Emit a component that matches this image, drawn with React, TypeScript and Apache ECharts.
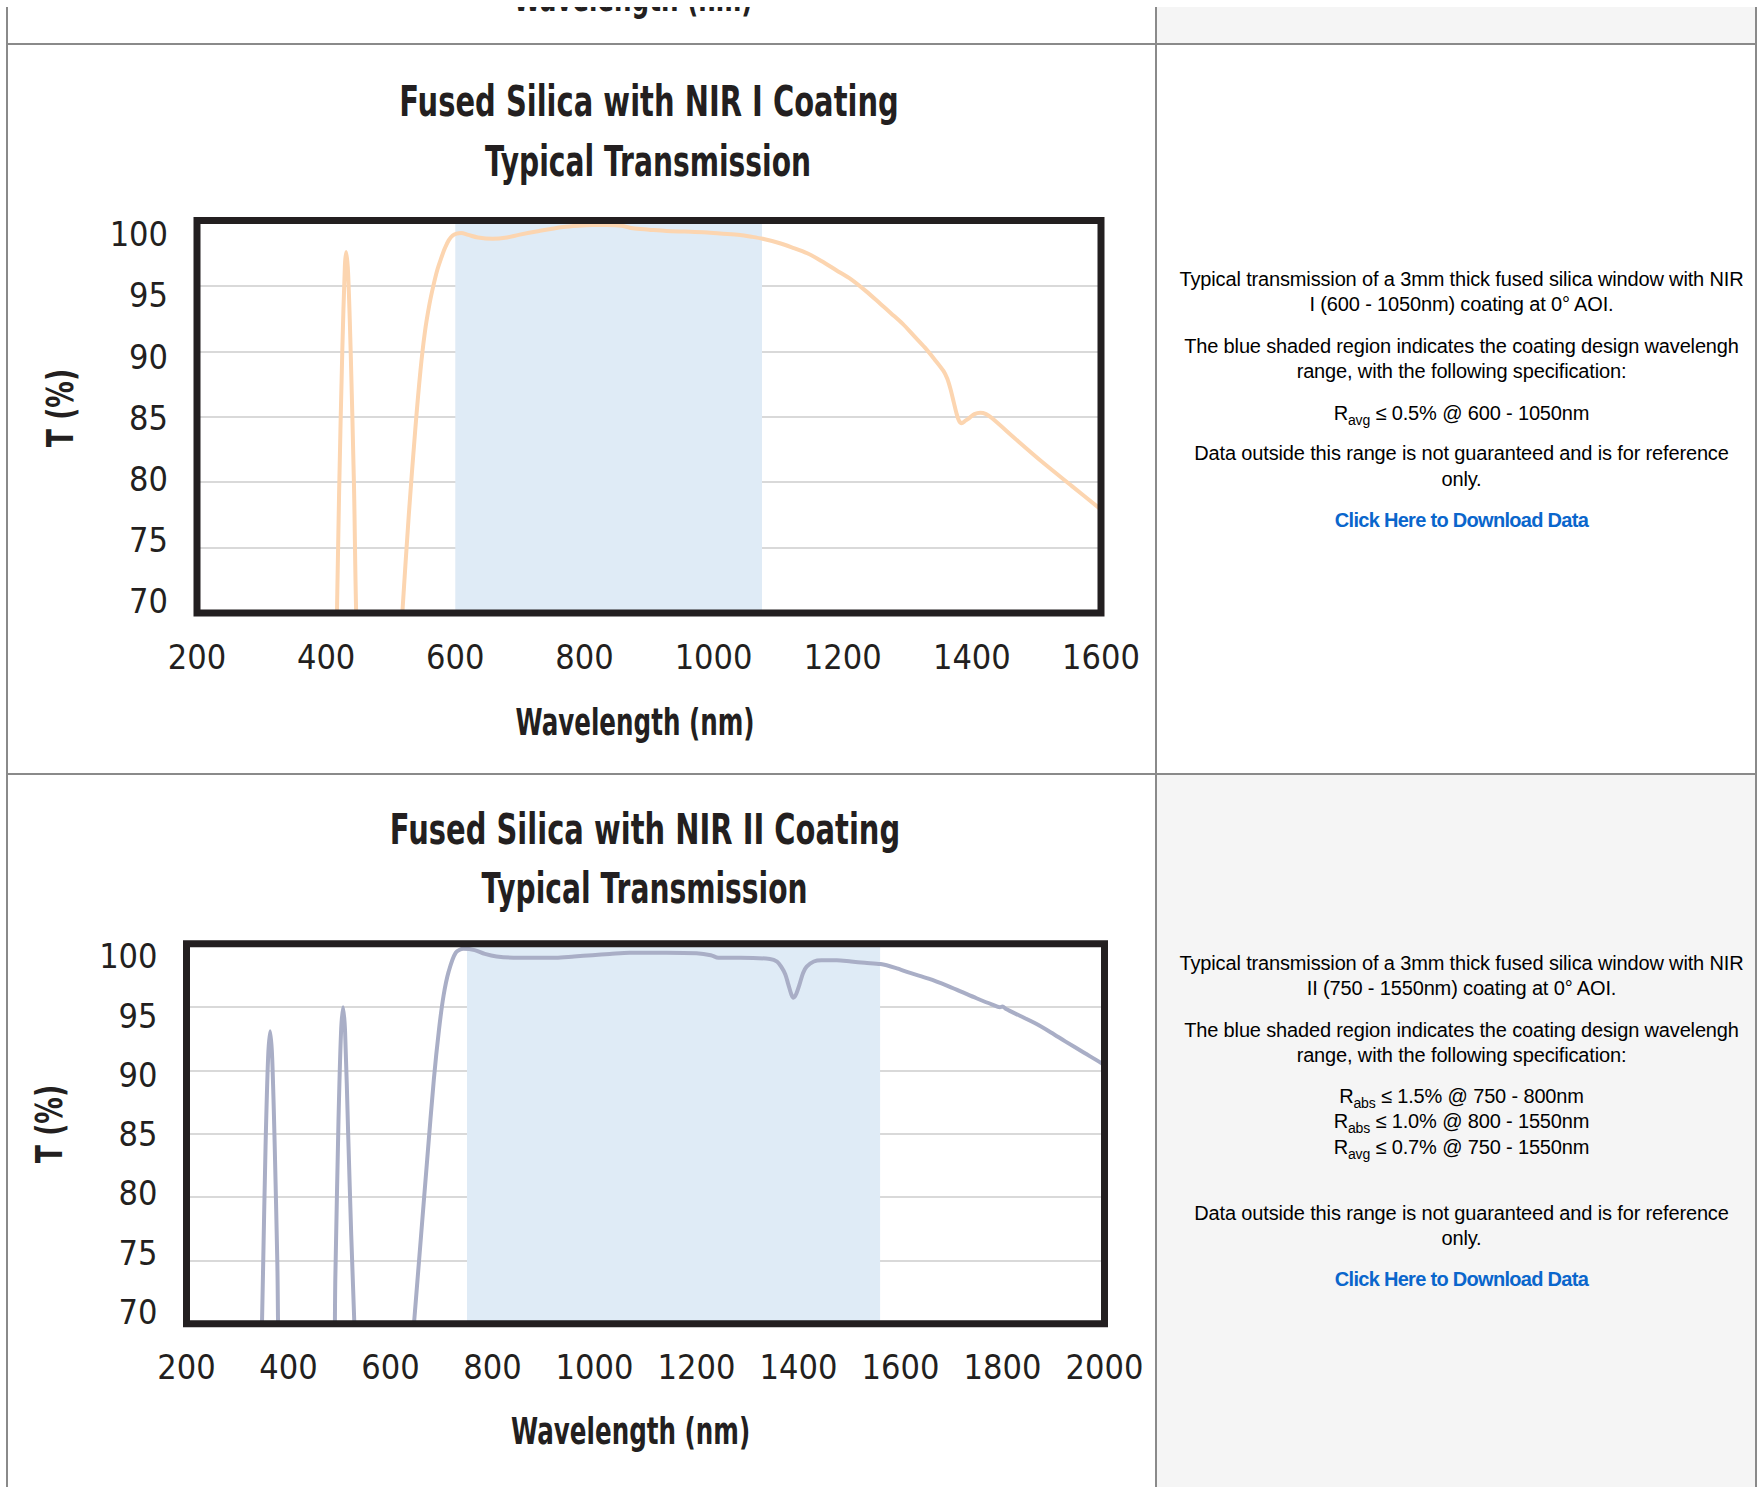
import React, { useEffect, useRef } from "react";
import * as echarts from "echarts";

// ---------- DATA ----------
// NIR I coating: wavelength (nm) and transmission (%)
const nir1Wavelength = [
  414, 420, 425, 429, 431, 434, 438, 443, 449, 480, 512, 518, 528, 538, 546, 553, 560, 566, 572,
  578, 584, 590, 596, 602, 609, 620, 635, 658, 680, 698, 730, 767, 790, 812, 835, 858, 875, 900,
  927, 955, 984, 1010, 1041, 1060, 1076, 1100, 1121, 1145, 1167, 1190, 1213, 1236, 1259, 1275,
  1293, 1310, 1327, 1342, 1356, 1362, 1367, 1372, 1376, 1380, 1384, 1390, 1396, 1404, 1413, 1422,
  1431, 1470, 1510, 1555, 1600,
];
const nir1Transmission = [
  62, 79, 90, 96.5, 97.6, 96, 90, 80, 66, 40, 65, 70, 77.5, 84, 88.5, 91.5, 93.6, 95, 96.2, 97.1,
  97.9, 98.5, 98.85, 99.0, 99.05, 98.9, 98.7, 98.6, 98.7, 98.9, 99.2, 99.5, 99.6, 99.65, 99.65,
  99.6, 99.4, 99.3, 99.2, 99.15, 99.1, 99.0, 98.9, 98.75, 98.6, 98.3, 97.95, 97.5, 96.9, 96.2,
  95.5, 94.6, 93.6, 92.9, 92.1, 91.2, 90.3, 89.4, 88.5, 87.9, 87.1, 86.1, 85.3, 84.7, 84.5, 84.7,
  84.9, 85.2, 85.3, 85.2, 84.9, 83.2, 81.5, 79.7, 77.9,
];
const nir1Shade = [600, 1075];
const nir1XRange = [200, 1600];

// NIR II coating: wavelength (nm) and transmission (%)
const nir2Wavelength = [
  344, 350, 355, 360, 364, 368, 373, 378, 384, 430, 486, 492, 498, 503, 507, 511, 517, 523, 530,
  535, 590, 640, 646, 660, 672, 685, 695, 704, 714, 728, 743, 765, 785, 808, 852, 924, 960, 996,
  1030, 1069, 1141, 1200, 1228, 1243, 1286, 1344, 1358, 1366, 1374, 1380, 1386, 1390, 1395, 1402,
  1409, 1416, 1430, 1445, 1475, 1503, 1530, 1561, 1590, 1619, 1655, 1691, 1720, 1749, 1780, 1795,
  1800, 1807, 1835, 1865, 1895, 1923, 1960, 1993, 2000,
];
const nir2Transmission = [
  62, 74, 84, 91, 93.1, 91, 84, 75, 63, 40, 62, 74, 86, 93, 95.0, 93, 85, 77, 69, 62, 40, 67, 70,
  77, 83, 89.3, 93.2, 95.9, 97.8, 99.3, 99.6, 99.5, 99.2, 99.0, 98.9, 98.9, 99.0, 99.1, 99.2, 99.3,
  99.3, 99.25, 99.1, 98.9, 98.9, 98.8, 98.6, 98.2, 97.6, 96.8, 96.0, 95.75, 96.0, 96.8, 97.7, 98.2,
  98.6, 98.7, 98.7, 98.6, 98.5, 98.4, 98.1, 97.7, 97.25, 96.7, 96.2, 95.7, 95.2, 95.0, 95.05, 94.85,
  94.3, 93.7, 93.0, 92.3, 91.4, 90.6, 90.4,
];
const nir2Shade = [750, 1560];
const nir2XRange = [200, 2000];

const xStep = 200;
const yRange = [70, 100];
const yStep = 5;

const chart1Title = ["Fused Silica with NIR I Coating", "Typical Transmission"];
const chart2Title = ["Fused Silica with NIR II Coating", "Typical Transmission"];
const xName = "Wavelength (nm)";
const yName = "T (%)";

const desc1Intro = [
  "Typical transmission of a 3mm thick fused silica window with NIR",
  "I (600 - 1050nm) coating at 0° AOI.",
];
const desc2Intro = [
  "Typical transmission of a 3mm thick fused silica window with NIR",
  "II (750 - 1550nm) coating at 0° AOI.",
];
const descShade = [
  "The blue shaded region indicates the coating design wavelengh",
  "range, with the following specification:",
];
const spec1 = [["avg", " ≤ 0.5% @ 600 - 1050nm"]];
const spec2 = [
  ["abs", " ≤ 1.5% @ 750 - 800nm"],
  ["abs", " ≤ 1.0% @ 800 - 1550nm"],
  ["avg", " ≤ 0.7% @ 750 - 1550nm"],
];
const descOutside = ["Data outside this range is not guaranteed and is for reference", "only."];
const linkText = "Click Here to Download Data";

// ---------- STYLE ----------
const INK = "#231f20";
const LABEL_FONT =
  '"Liberation Sans Narrow", "DejaVu Sans Condensed", "Roboto Condensed", "Arial Narrow", sans-serif';
const TOP = 7; // page y of the chart canvas

const pairs = (xs: number[], ys: number[]) => xs.map((x, i) => [x, ys[i]]);

function buildOption() {
  const plots = [
    {
      left: 197, top: 220.5 - TOP, width: 904, height: 392.5,
      labelTop: 234.3 - TOP, labelHeight: 366.7,
      xr: nir1XRange, data: pairs(nir1Wavelength, nir1Transmission), shade: nir1Shade,
      color: "#fcd5b0", labelMargin: 27,
    },
    {
      left: 186.5, top: 943.8 - TOP, width: 918, height: 380,
      labelTop: 956.4 - TOP, labelHeight: 355.4,
      xr: nir2XRange, data: pairs(nir2Wavelength, nir2Transmission), shade: nir2Shade,
      color: "#a9aec6", labelMargin: 26,
    },
  ];
  const grid: any[] = [];
  const xAxis: any[] = [];
  const yAxis: any[] = [];
  const series: any[] = [];
  const labelStyle = {
    color: INK, fontFamily: LABEL_FONT, fontSize: 34,
    formatter: (v: number) => String(v),
  };
  plots.forEach((p) => {
    const gi = grid.length;
    grid.push({
      left: p.left, top: p.top, width: p.width, height: p.height,
      show: true, borderColor: INK, borderWidth: 7, backgroundColor: "transparent", z: 5,
    });
    grid.push({ left: p.left, top: p.labelTop, width: 10, height: p.labelHeight, show: false });
    xAxis.push({
      type: "value", gridIndex: gi, min: p.xr[0], max: p.xr[1], interval: xStep,
      axisLine: { show: false }, axisTick: { show: false }, splitLine: { show: false },
      axisLabel: { ...labelStyle, margin: p.labelMargin },
    });
    xAxis.push({ type: "value", gridIndex: gi + 1, show: false, min: 0, max: 1 });
    yAxis.push({
      type: "value", gridIndex: gi, min: yRange[0], max: yRange[1], interval: yStep,
      axisLine: { show: false }, axisTick: { show: false }, axisLabel: { show: false },
      splitLine: { show: true, lineStyle: { color: "#d9d9d9", width: 2 } },
    });
    yAxis.push({
      type: "value", gridIndex: gi + 1, min: yRange[0], max: yRange[1], interval: yStep,
      axisLine: { show: false }, axisTick: { show: false }, splitLine: { show: false },
      axisLabel: { ...labelStyle, margin: 29 },
    });
    series.push({
      type: "line", xAxisIndex: gi, yAxisIndex: gi, data: p.data,
      showSymbol: false, symbol: "none", smooth: 0.3,
      lineStyle: { color: p.color, width: 4, cap: "round", join: "round" },
      markArea: {
        silent: true,
        itemStyle: { color: "#dfebf6" },
        data: [[{ xAxis: p.shade[0] }, { xAxis: p.shade[1] }]],
      },
      z: 2,
    });
  });

  const txt = (text: string, x: number, y: number, size: number, scaleX: number, rotation = 0) => ({
    type: "text", x, y, scaleX, rotation, z: 20,
    style: {
      text, fill: INK, fontSize: size, fontWeight: "bold", fontFamily: "DejaVu Sans",
      textAlign: "center", textVerticalAlign: "middle", align: "center", verticalAlign: "middle",
    },
  });

  const graphic = [
    txt(xName, 633, 11.5 - 13.5 - TOP, 37, 0.665),
    txt(chart1Title[0], 649, 102.5 - TOP, 42, 0.69),
    txt(chart1Title[1], 648, 161.5 - TOP, 42, 0.67),
    txt(xName, 635, 722.5 - TOP, 37, 0.665),
    txt(yName, 60, 408 - TOP, 37, 0.72, Math.PI / 2),
    txt(chart2Title[0], 645, 830 - TOP, 42, 0.69),
    txt(chart2Title[1], 644.5, 888 - TOP, 42, 0.67),
    txt(xName, 630.6, 1431 - TOP, 37, 0.665),
    txt(yName, 49, 1124 - TOP, 37, 0.72, Math.PI / 2),
  ];

  return { animation: false, grid, xAxis, yAxis, series, graphic };
}

function Charts() {
  const ref = useRef<HTMLDivElement>(null);
  useEffect(() => {
    if (!ref.current) return;
    const chart = echarts.init(ref.current, undefined, { renderer: "svg" });
    chart.setOption(buildOption() as any);
    return () => chart.dispose();
  }, []);
  return (
    <div
      ref={ref}
      style={{ position: "absolute", left: 0, top: TOP, width: 1155, height: 1487 - TOP }}
    />
  );
}

const LINE_H = 25;
const lineStyle = (centerY: number): React.CSSProperties => ({
  position: "absolute",
  left: 1167,
  width: 589,
  top: centerY - LINE_H / 2,
  height: LINE_H,
  lineHeight: LINE_H + "px",
  textAlign: "center",
  whiteSpace: "nowrap",
  fontSize: 20,
  letterSpacing: "-0.15px",
  color: "#000000",
});
const linkStyle = (centerY: number): React.CSSProperties => ({
  ...lineStyle(centerY),
  color: "#0a66cc",
  fontWeight: "bold",
  letterSpacing: "-0.7px",
});

function Spec({ sub, rest, y }: { sub: string; rest: string; y: number }) {
  return (
    <div style={lineStyle(y)}>
      R<span style={{ fontSize: 14, position: "relative", top: 5 }}>{sub}</span>
      {rest}
    </div>
  );
}

export default function App() {
  const border = "#8a8a8a";
  return (
    <div
      style={{
        position: "absolute", left: 0, top: 0, width: 1758, height: 1487, overflow: "hidden",
        background: "#ffffff", fontFamily: '"Liberation Sans", Arial, sans-serif',
      }}
    >
      <div style={{ position: "absolute", left: 1155, top: 7, width: 601, height: 37, background: "#f5f5f5" }} />
      <div style={{ position: "absolute", left: 1155, top: 773, width: 601, height: 714, background: "#f5f5f5" }} />
      <Charts />
      {/* table lines */}
      <div style={{ position: "absolute", left: 6, top: 7, width: 2, height: 1480, background: border }} />
      <div style={{ position: "absolute", left: 1155, top: 7, width: 2, height: 1480, background: border }} />
      <div style={{ position: "absolute", left: 1755, top: 7, width: 2, height: 1480, background: border }} />
      <div style={{ position: "absolute", left: 6, top: 43, width: 1751, height: 2, background: border }} />
      <div style={{ position: "absolute", left: 6, top: 773, width: 1751, height: 2, background: border }} />

      {/* cell 1 text */}
      <div style={lineStyle(279)}>{desc1Intro[0]}</div>
      <div style={lineStyle(304)}>{desc1Intro[1]}</div>
      <div style={lineStyle(346)}>{descShade[0]}</div>
      <div style={lineStyle(371)}>{descShade[1]}</div>
      <Spec sub={spec1[0][0]} rest={spec1[0][1]} y={413} />
      <div style={lineStyle(453)}>{descOutside[0]}</div>
      <div style={lineStyle(479)}>{descOutside[1]}</div>
      <div style={linkStyle(520)}>{linkText}</div>

      {/* cell 2 text */}
      <div style={lineStyle(963)}>{desc2Intro[0]}</div>
      <div style={lineStyle(988)}>{desc2Intro[1]}</div>
      <div style={lineStyle(1030)}>{descShade[0]}</div>
      <div style={lineStyle(1055)}>{descShade[1]}</div>
      <Spec sub={spec2[0][0]} rest={spec2[0][1]} y={1096} />
      <Spec sub={spec2[1][0]} rest={spec2[1][1]} y={1121} />
      <Spec sub={spec2[2][0]} rest={spec2[2][1]} y={1147} />
      <div style={lineStyle(1213)}>{descOutside[0]}</div>
      <div style={lineStyle(1238)}>{descOutside[1]}</div>
      <div style={linkStyle(1279)}>{linkText}</div>
    </div>
  );
}
